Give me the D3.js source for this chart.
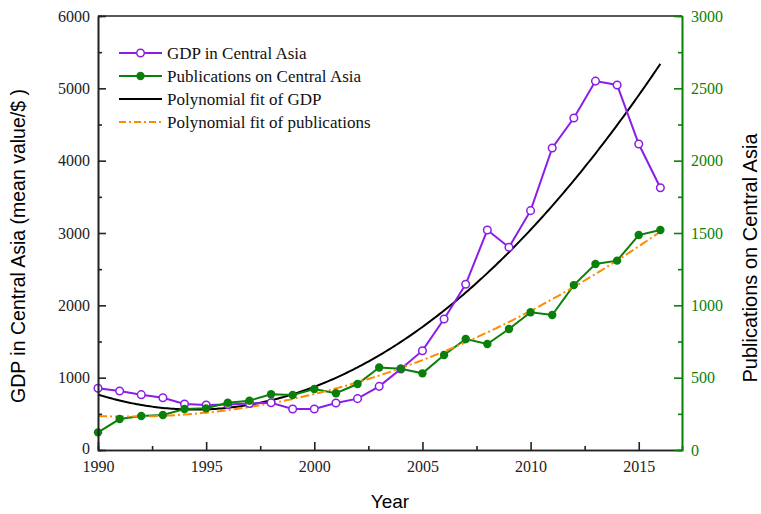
<!DOCTYPE html>
<html>
<head>
<meta charset="utf-8">
<script src="https://cdn.jsdelivr.net/npm/d3@7"></script>
<style>
  body { margin: 0; background: #fff; }
  svg { display: block; }
</style>
</head>
<body>
<svg id="chart" width="761" height="514"></svg>
<script>
// Yearly series
const years = [1990,1991,1992,1993,1994,1995,1996,1997,1998,1999,2000,2001,2002,2003,
               2004,2005,2006,2007,2008,2009,2010,2011,2012,2013,2014,2015,2016];
const gdp = [853,815,765,723,636,622,628,643,654,567,567,650,710,880,
             1120,1373,1811,2291,3041,2802,3309,4175,4590,5100,5046,4230,3626];
const pubs = [122,214,235,242,283,288,327,341,385,380,422,392,456,570,
              562,530,657,767,733,836,952,933,1140,1286,1309,1486,1521];

const leftTicks = [0,1000,2000,3000,4000,5000,6000];
const rightTicks = [0,500,1000,1500,2000,2500,3000];
const yearTicks = [1990,1995,2000,2005,2010,2015];

const legendItems = [
  {label: "GDP in Central Asia", key: "gdp"},
  {label: "Publications on Central Asia", key: "pubs"},
  {label: "Polynomial fit of GDP", key: "gdpFit"},
  {label: "Polynomial fit of publications", key: "pubsFit"}
];

const colors = {gdp: "#8a1ee8", pubs: "#0a800a", gdpFit: "#000000", pubsFit: "#ff8c00"};

// Least-squares polynomial fit (normal equations, Gaussian elimination)
function polyFit(xs, ys, deg) {
  const n = deg + 1;
  const A = Array.from({length: n}, () => new Array(n + 1).fill(0));
  xs.forEach((x, k) => {
    for (let i = 0; i < n; i++) {
      for (let j = 0; j < n; j++) A[i][j] += Math.pow(x, i + j);
      A[i][n] += ys[k] * Math.pow(x, i);
    }
  });
  for (let c = 0; c < n; c++) {
    let p = c;
    for (let r = c + 1; r < n; r++) if (Math.abs(A[r][c]) > Math.abs(A[p][c])) p = r;
    [A[c], A[p]] = [A[p], A[c]];
    for (let r = 0; r < n; r++) {
      if (r === c) continue;
      const f = A[r][c] / A[c][c];
      for (let k = c; k <= n; k++) A[r][k] -= f * A[c][k];
    }
  }
  const coef = A.map((row, i) => row[n] / row[i]);
  return x => coef.reduce((s, c, i) => s + c * Math.pow(x, i), 0);
}

const svg = d3.select("#chart");
const margin = {left: 98, right: 79, top: 16, bottom: 64};
const W = 761, H = 514;
const x = d3.scaleLinear().domain([1990, 2017]).range([margin.left, W - margin.right]);
const yL = d3.scaleLinear().domain([0, 6000]).range([H - margin.bottom, margin.top]);
const yR = d3.scaleLinear().domain([0, 3000]).range([H - margin.bottom, margin.top]);

const serif = "'Liberation Serif','Times New Roman',serif";
const sans = "'Liberation Sans',Arial,sans-serif";

// Quadratic fits computed on centred years
const xc = years.map(v => v - 2003);
const gdpFitFn = polyFit(xc, gdp, 2);
const pubsFitFn = polyFit(xc, pubs, 2);
const fineYears = d3.range(1990, 2016.001, 0.1);

const plot = svg.append("g");

const lineL = d3.line().x(d => x(d[0])).y(d => yL(d[1]));
const lineR = d3.line().x(d => x(d[0])).y(d => yR(d[1]));

plot.append("path")
  .datum(fineYears.map(t => [t, gdpFitFn(t - 2003)]))
  .attr("d", lineL).attr("fill", "none").attr("stroke", colors.gdpFit).attr("stroke-width", 2);

plot.append("path")
  .datum(years.map((t, i) => [t, gdp[i]]))
  .attr("d", lineL).attr("fill", "none").attr("stroke", colors.gdp).attr("stroke-width", 2);

plot.append("path")
  .datum(years.map((t, i) => [t, pubs[i]]))
  .attr("d", lineR).attr("fill", "none").attr("stroke", colors.pubs).attr("stroke-width", 2);

plot.append("path")
  .datum(fineYears.map(t => [t, pubsFitFn(t - 2003)]))
  .attr("d", lineR).attr("fill", "none").attr("stroke", colors.pubsFit).attr("stroke-width", 2)
  .attr("stroke-dasharray", "9,3,2,3");

plot.selectAll("circle.gdp").data(years).join("circle")
  .attr("class", "gdp")
  .attr("cx", d => x(d)).attr("cy", (d, i) => yL(gdp[i])).attr("r", 3.8)
  .attr("fill", "#fff").attr("stroke", colors.gdp).attr("stroke-width", 1.5);

plot.selectAll("circle.pubs").data(years).join("circle")
  .attr("class", "pubs")
  .attr("cx", d => x(d)).attr("cy", (d, i) => yR(pubs[i])).attr("r", 4.2)
  .attr("fill", colors.pubs);

// Axes
function styleAxis(g, color, fontSize) {
  g.select(".domain").attr("stroke", color).attr("stroke-width", 1.6);
  g.selectAll(".tick line").attr("stroke", color).attr("stroke-width", 1.6);
  g.selectAll(".tick text").attr("fill", color).attr("font-family", serif).attr("font-size", fontSize);
}

// top frame line
svg.append("line")
  .attr("x1", margin.left).attr("x2", W - margin.right)
  .attr("y1", margin.top).attr("y2", margin.top)
  .attr("stroke", "#222").attr("stroke-width", 1.6);

const fmt = d3.format("d");
const tickFont = 16;

// x axis: major and minor ticks inward
const xMinor = svg.append("g").attr("transform", `translate(0,${H - margin.bottom})`)
  .call(d3.axisTop(x).tickValues(d3.range(1992.5, 2017, 5)).tickSize(4).tickFormat(""));
styleAxis(xMinor, "#222", tickFont);
const xAxis = svg.append("g").attr("transform", `translate(0,${H - margin.bottom})`)
  .call(d3.axisBottom(x).tickValues(yearTicks).tickSize(0).tickPadding(11).tickFormat(fmt));
styleAxis(xAxis, "#222", tickFont);
xAxis.selectAll(".tick").append("line").attr("y2", -8).attr("stroke", "#222").attr("stroke-width", 1.6);

// left axis
const yLMinor = svg.append("g").attr("transform", `translate(${margin.left},0)`)
  .call(d3.axisRight(yL).tickValues(d3.range(500, 6000, 1000)).tickSize(4).tickFormat(""));
styleAxis(yLMinor, "#222", tickFont);
const yLAxis = svg.append("g").attr("transform", `translate(${margin.left},0)`)
  .call(d3.axisLeft(yL).tickValues(leftTicks).tickSize(0).tickPadding(8).tickFormat(fmt));
styleAxis(yLAxis, "#222", tickFont);
yLAxis.selectAll(".tick").append("line").attr("x2", 8).attr("stroke", "#222").attr("stroke-width", 1.6);
// lift the zero label slightly so it clears the year labels
yLAxis.selectAll(".tick text").filter(d => d === 0).attr("dy", "0.2em");

// right axis
const yRMinor = svg.append("g").attr("transform", `translate(${W - margin.right},0)`)
  .call(d3.axisLeft(yR).tickValues(d3.range(250, 3000, 500)).tickSize(4).tickFormat(""));
styleAxis(yRMinor, colors.pubs, tickFont);
const yRAxis = svg.append("g").attr("transform", `translate(${W - margin.right},0)`)
  .call(d3.axisRight(yR).tickValues(rightTicks).tickSize(0).tickPadding(9).tickFormat(fmt));
styleAxis(yRAxis, colors.pubs, tickFont);
yRAxis.selectAll(".tick").append("line").attr("x2", -8).attr("stroke", colors.pubs).attr("stroke-width", 1.6);

// Axis titles
svg.append("text").attr("x", 390).attr("y", 508)
  .attr("text-anchor", "middle").attr("font-family", sans).attr("font-size", 19).text("Year");
svg.append("text").attr("transform", "translate(25,246) rotate(-90)")
  .attr("text-anchor", "middle").attr("font-family", sans).attr("font-size", 19.5)
  .text("GDP in Central Asia (mean value/$ )");
svg.append("text").attr("transform", "translate(757,258) rotate(-90)")
  .attr("text-anchor", "middle").attr("font-family", sans).attr("font-size", 20)
  .text("Publications on Central Asia");

// Legend
const legend = svg.append("g").attr("transform", "translate(119,53)");
legendItems.forEach((item, i) => {
  const g = legend.append("g").attr("transform", `translate(0,${i * 23})`);
  const ln = g.append("line").attr("x1", 0).attr("x2", 43).attr("stroke", colors[item.key]).attr("stroke-width", 2);
  if (item.key === "pubsFit") ln.attr("stroke-dasharray", "7,3,2,3");
  if (item.key === "gdp") g.append("circle").attr("cx", 21.5).attr("r", 3.8).attr("fill", "#fff")
    .attr("stroke", colors.gdp).attr("stroke-width", 1.5);
  if (item.key === "pubs") g.append("circle").attr("cx", 21.5).attr("r", 4.2).attr("fill", colors.pubs);
  g.append("text").attr("x", 48).attr("y", 6).attr("font-family", serif).attr("font-size", 17)
    .attr("fill", "#111").text(item.label);
});
</script>
</body>
</html>
